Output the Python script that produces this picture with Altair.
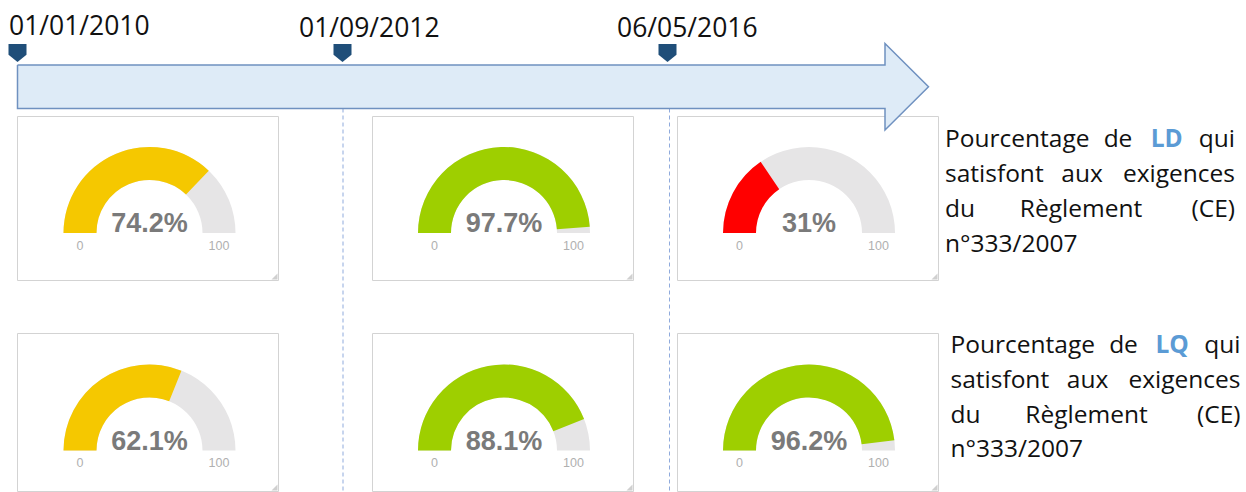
import math

import altair as alt
import pandas as pd

# ---- values shown on the page -------------------------------------------
dates = ["01/01/2010", "01/09/2012", "06/05/2016"]
ld_share = [74.2, 97.7, 31]      # % of LD meeting the regulation, per date
lq_share = [62.1, 88.1, 96.2]    # % of LQ meeting the regulation, per date
gauge_ticks = [0, 100]
ld_lines = [["Pourcentage", "de", "LD", "qui"],
            ["satisfont", "aux", "exigences"],
            ["du", "Règlement", "(CE)"],
            ["n°333/2007"]]
lq_lines = [["Pourcentage", "de", "LQ", "qui"],
            ["satisfont", "aux", "exigences"],
            ["du", "Règlement", "(CE)"],
            ["n°333/2007"]]
highlights = ["LD", "LQ"]

# ---- page layout (pixels) -------------------------------------------------
W, H = 1246, 492
col_left = [17.5, 372.5, 677.5]
box_w = 261
row_top = [116.5, 333.5]
row_bottom = [280.5, 491.5]
gauge_cx = [149.5, 504, 809]
gauge_base = [233, 450.5]
R_OUT, R_IN = 86, 53
marker_x = [17.5, 342.5, 667.5]
marker_y = 53
date_label_x = [9, 299, 617]
date_label_y = [35, 37, 37]
guide_x = [343, 669.5]
body_left, body_top, body_bottom = 17.5, 65, 108.5
head_base, head_top, head_bottom, head_tip = 885, 43.5, 130, 928.5
para_left = [945, 950.5]
para_right = [1235, 1240.5]
para_base = [[146.7, 181.7, 216.7, 251.7], [353, 388, 422.5, 457]]
para_mid = [[1118, 1166.7], [1082], [1081], []]
para_shift = [0, 5.5]

GREY_TXT = "#7A7A7A"
BLUE_DARK = "#1F4E79"
ARROW_FILL = "#DEEBF7"

xs = alt.Scale(domain=[0, W], nice=False, zero=False)
ys = alt.Scale(domain=[0, H], nice=False, zero=False, reverse=True)


def X(field):
    return alt.X(field, type="quantitative", scale=xs, axis=None)


def Y(field):
    return alt.Y(field, type="quantitative", scale=ys, axis=None)


# ---- tables ---------------------------------------------------------------
gauges = pd.DataFrame(
    [dict(value=v, cx=gauge_cx[c], cy=gauge_base[r], label=f"{v:g}%")
     for r, series in enumerate([ld_share, lq_share])
     for c, v in enumerate(series)]
)

boxes = pd.DataFrame(
    [dict(x=col_left[c], x2=col_left[c] + box_w, y=row_top[r], y2=row_bottom[r])
     for r in range(2) for c in range(3)]
)

ticks = pd.DataFrame(
    [dict(t=str(t), x=cx + (R_OUT + R_IN) / 2 * (1 if t == 100 else -1), y=cy + 16.5)
     for cy in gauge_base for cx in gauge_cx for t in gauge_ticks]
)

mid_y = (head_top + head_bottom) / 2
arrow_shaft = pd.DataFrame({"x": [body_left], "x2": [head_base + 1],
                            "y": [body_top], "y2": [body_bottom]})
arrow_head = pd.DataFrame({"x": [head_base, head_tip],
                           "y": [head_top, mid_y], "y2": [head_bottom, mid_y]})
arrow_edge = pd.DataFrame({
    "x": [body_left, head_base, head_base, head_tip, head_base, head_base,
          body_left, body_left],
    "y": [body_top, body_top, head_top, mid_y, head_bottom, body_bottom,
          body_bottom, body_top],
    "o": list(range(8)),
})

markers = pd.DataFrame({"x": marker_x, "y": [marker_y] * 3})
date_labels = pd.DataFrame({"d": dates, "x": date_label_x, "y": date_label_y})
guides = pd.DataFrame({"x": guide_x, "y": [body_bottom] * 2, "y2": [H] * 2})

word_rows = []
for p, lines in enumerate([ld_lines, lq_lines]):
    for words, base, mids in zip(lines, para_base[p], para_mid):
        for i, w in enumerate(words):
            if i == 0:
                x, anchor = para_left[p], "left"
            elif i == len(words) - 1:
                x, anchor = para_right[p], "right"
            else:
                x, anchor = mids[i - 1] + para_shift[p], "center"
            if w in highlights:
                anchor = "key"
            word_rows.append(dict(w=w, x=x, y=base, anchor=anchor))
words = pd.DataFrame(word_rows)

# ---- layers ---------------------------------------------------------------
box_layer = alt.Chart(boxes).mark_rect(
    fill="white", stroke="#D3D3D3", strokeWidth=1
).encode(x=X("x"), x2="x2", y=Y("y"), y2="y2")

# small resize grip in the lower right corner of each panel
grip_layer = alt.Chart(boxes).transform_calculate(
    gx="datum.x2 - 4", gy="datum.y2 - 4"
).mark_point(
    shape="M1,-1L1,1L-1,1Z", size=36, filled=True, color="#D0D0D0",
    opacity=1, strokeWidth=0
).encode(x=X("gx:Q"), y=Y("gy:Q"))

guide_layer = alt.Chart(guides).mark_rule(
    color="#8FAADC", strokeWidth=1, strokeDash=[4, 3]
).encode(x=X("x"), y=Y("y"), y2="y2")

theta_scale = alt.Scale(domain=[0, 100], range=[1.5 * math.pi, 2.5 * math.pi])

track_layer = alt.Chart(gauges).transform_calculate(lo="0", hi="100").mark_arc(
    radius=R_OUT, radius2=R_IN, color="#E6E5E6"
).encode(
    x=X("cx"), y=Y("cy"),
    theta=alt.Theta("lo:Q", scale=theta_scale, stack=None),
    theta2="hi:Q",
)

value_layer = alt.Chart(gauges).transform_calculate(lo="0").mark_arc(
    radius=R_OUT, radius2=R_IN
).encode(
    x=X("cx"), y=Y("cy"),
    theta=alt.Theta("lo:Q", scale=theta_scale, stack=None),
    theta2="value:Q",
    color=alt.Color(
        "value:Q",
        scale=alt.Scale(type="threshold", domain=[50, 80],
                        range=["#FF0000", "#F5C800", "#9ECF00"]),
        legend=None,
    ),
)

value_text = alt.Chart(gauges).mark_text(
    font="Liberation Sans", fontSize=27, fontWeight="bold", color=GREY_TXT,
    align="center", baseline="alphabetic", dy=-1
).encode(x=X("cx"), y=Y("cy"), text="label:N")

tick_text = alt.Chart(ticks).mark_text(
    font="Liberation Sans", fontSize=12.5, color="#B0B0B0",
    align="center", baseline="alphabetic"
).encode(x=X("x"), y=Y("y"), text="t:N")

shaft_layer = alt.Chart(arrow_shaft).mark_rect(
    color=ARROW_FILL, opacity=1
).encode(x=X("x"), x2="x2", y=Y("y"), y2="y2")

head_layer = alt.Chart(arrow_head).mark_area(
    color=ARROW_FILL, opacity=1, interpolate="linear"
).encode(x=X("x"), y=Y("y"), y2="y2")

arrow_line = alt.Chart(arrow_edge).mark_line(
    color="#6F91C0", strokeWidth=1.5, strokeJoin="miter"
).encode(x=X("x"), y=Y("y"), order="o:Q")

marker_layer = alt.Chart(markers).mark_point(
    shape="M-1,-1L1,-1L1,0.2L0,1L-1,0.2Z", size=324, filled=True,
    color=BLUE_DARK, opacity=1, strokeWidth=0
).encode(x=X("x"), y=Y("y"))

date_layer = alt.Chart(date_labels).mark_text(
    font="Open Sans", fontSize=26.5, color="#111111",
    align="left", baseline="alphabetic"
).encode(x=X("x"), y=Y("y"), text="d:N")


def word_layer(anchor, align, **style):
    return alt.Chart(words).transform_filter(
        alt.datum.anchor == anchor
    ).mark_text(
        font="Open Sans", fontSize=24.5, align=align, baseline="alphabetic", **style
    ).encode(x=X("x"), y=Y("y"), text="w:N")


text_layers = [
    word_layer("left", "left", color="#111111"),
    word_layer("center", "center", color="#111111"),
    word_layer("right", "right", color="#111111"),
    word_layer("key", "center", color="#5B9BD5", fontWeight="bold"),
]

chart = alt.layer(
    guide_layer, box_layer, grip_layer, track_layer, value_layer, value_text,
    tick_text, shaft_layer, head_layer, arrow_line, marker_layer, date_layer,
    *text_layers
).properties(
    width=W, height=H, padding=0, autosize=alt.AutoSizeParams(type="none"),
    background="white"
).configure_view(stroke=None, strokeWidth=0)

chart.save("out.html", embed_options={"renderer": "svg", "actions": False})
